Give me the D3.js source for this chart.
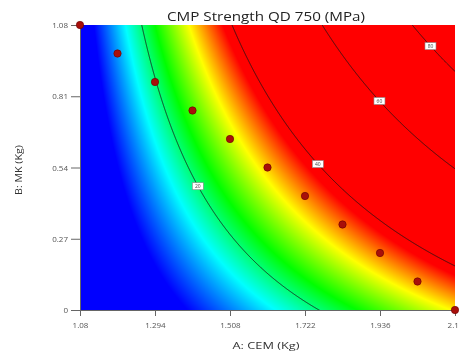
<!DOCTYPE html>
<html><head><meta charset="utf-8">
<script src="https://cdn.jsdelivr.net/npm/d3@7"></script>
<style>body{margin:0;background:#fff;overflow:hidden}#wrap{position:relative;width:459px;height:356px}canvas,svg{position:absolute;left:0;top:0}</style>
</head><body><div id="wrap"><canvas id="cv" width="459" height="356"></canvas><svg id="sv" width="459" height="356"></svg></div>
<script>
// axis ticks
const xTicks=[1.08,1.294,1.508,1.722,1.936,2.15];
const yTicks=[0,0.27,0.54,0.81,1.08];
// design points
const cem=[1.08,1.187,1.294,1.401,1.508,1.615,1.722,1.829,1.936,2.043,2.15];
const mk=[1.08,0.972,0.864,0.756,0.648,0.54,0.432,0.324,0.216,0.108,0];
// contour levels and the B value where each label sits
const levels=[20,40,60,80];
const labelY=[0.469,0.553,0.792,1.0];
// fitted response model (centred at A=1.6, B=0.54): 1, a, b, ab, a^2, b^2
const modelTerms=["1","a","b","ab","a2","b2"];
const modelCoef=[31.15,52.77,28.99,46.05,0.21,-0.17];
// colour ramp stops (MPa)
const rampVals=[9.5,16.5,23,30.5,38];
const rampCols=["#0000ff","#00ffff","#00ff00","#ffff00","#ff0000"];

function F(A,B){const a=A-1.6,b=B-0.54;const t=[1,a,b,a*b,a*a,b*b];let s=0;for(let i=0;i<t.length;i++)s+=modelCoef[i]*t[i];return s;}

const L=80,R=455,T=25,Bm=310;
const x=d3.scaleLinear().domain([1.08,2.15]).range([L,R]);
const y=d3.scaleLinear().domain([0,1.08]).range([Bm,T]);
const color=d3.scaleLinear().domain(rampVals).range(rampCols).clamp(true);

const ctx=document.getElementById('cv').getContext('2d');
const W=R-L,H=Bm-T;
const img=ctx.createImageData(W,H);
for(let j=0;j<H;j++)for(let i=0;i<W;i++){const c=d3.rgb(color(F(x.invert(L+i+0.5),y.invert(T+j+0.5))));const k=(j*W+i)*4;img.data[k]=c.r;img.data[k+1]=c.g;img.data[k+2]=c.b;img.data[k+3]=255;}
ctx.putImageData(img,L,T);

const svg=d3.select('#sv');
svg.append('clipPath').attr('id','clp').append('rect').attr('x',L).attr('y',T).attr('width',W).attr('height',H);
const pad=10,gw=W+2*pad,gh=H+2*pad;const vals=new Array(gw*gh);
for(let j=0;j<gh;j++)for(let i=0;i<gw;i++)vals[j*gw+i]=F(x.invert(L-pad+i),y.invert(T-pad+j));
const cs=d3.contours().size([gw,gh]).thresholds(levels)(vals);
const path=d3.geoPath(d3.geoTransform({point(px,py){this.stream.point(L-pad+px,T-pad+py);}}));
svg.append('g').attr('clip-path','url(#clp)').selectAll('path').data(cs).join('path').attr('d',path)
  .attr('fill','none').attr('stroke','rgba(25,20,20,0.8)').attr('stroke-width',1);

const gx=svg.append('g').attr('transform',`translate(0,${Bm})`).call(d3.axisBottom(x).tickValues(xTicks).tickFormat(d=>String(d)).tickSize(6).tickSizeOuter(0));
const gy=svg.append('g').attr('transform',`translate(${L},0)`).call(d3.axisLeft(y).tickValues(yTicks).tickFormat(d=>String(d)).tickSize(9).tickSizeOuter(0));
[gx,gy].forEach(g=>{g.selectAll('text').attr('font-family','Open Sans').attr('font-size',8).attr('fill','#555');g.selectAll('line,path').attr('stroke','#666');});
gx.selectAll('text').attr('dy','1.1em');
gy.selectAll('text').attr('x',-12);

levels.forEach((lv,i)=>{const Y=labelY[i];let lo=1.08,hi=2.15;for(let k=0;k<50;k++){const m=(lo+hi)/2;if(F(m,Y)<lv)lo=m;else hi=m;}
 const g=svg.append('g').attr('transform',`translate(${x(lo)},${y(Y)})`);
 g.append('rect').attr('x',-5.5).attr('y',-3.5).attr('width',11).attr('height',7).attr('fill','#fff').attr('stroke','#888').attr('stroke-width',0.6);
 g.append('text').attr('text-anchor','middle').attr('dy','0.35em').attr('font-size',5).attr('font-family','Open Sans').attr('fill','#444').text(lv);});

svg.append('g').selectAll('circle').data(cem).join('circle').attr('cx',d=>x(d)).attr('cy',(d,i)=>y(mk[i]))
  .attr('rx',4).attr('r',3.7).attr('fill','#a80f0a').attr('stroke','#6a0000').attr('stroke-width',0.6);

svg.append('text').attr('x',266).attr('y',21).attr('text-anchor','middle').attr('font-family','Open Sans').attr('font-size',12.8)
  .attr('fill','#222').attr('textLength',198).attr('lengthAdjust','spacingAndGlyphs').text('CMP Strength QD 750 (MPa)');
svg.append('text').attr('x',266).attr('y',349).attr('text-anchor','middle').attr('font-family','Open Sans').attr('font-size',9.5)
  .attr('fill','#333').attr('textLength',67).attr('lengthAdjust','spacingAndGlyphs').text('A: CEM (Kg)');
svg.append('text').attr('transform','translate(22,170) rotate(-90)').attr('text-anchor','middle').attr('font-family','Open Sans').attr('font-size',9.5)
  .attr('fill','#333').attr('textLength',50).attr('lengthAdjust','spacingAndGlyphs').text('B: MK (Kg)');
</script></body></html>
